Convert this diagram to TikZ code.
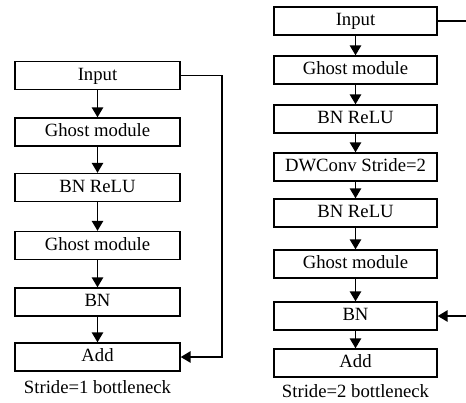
\documentclass[tikz,border=0pt]{standalone}
\usepackage{fontspec}
\setmainfont{Liberation Serif}
\usetikzlibrary{arrows.meta}
\begin{document}
\begin{tikzpicture}[x=1pt,y=-1pt,
  blk/.style={draw=black,line width=1.4pt,minimum height=28pt,inner sep=0pt,
    font=\fontsize{18.7}{22}\selectfont,text height=13pt,text depth=4pt},
  lblk/.style={blk,minimum width=165pt},
  rblk/.style={blk,minimum width=163pt},
  flow/.style={line width=1.5pt,-{Triangle[width=11.5pt,length=10pt]}},
  caption/.style={font=\fontsize{18.7}{22}\selectfont,inner sep=0pt}]
\useasboundingbox (0,0) rectangle (466,402);

% stride 1 bottleneck
\node[lblk] (l1) at (97.5,75.5) {Input};
\node[lblk] (l2) at (97.5,132) {Ghost module};
\node[lblk] (l3) at (97.5,187.5) {BN ReLU};
\node[lblk] (l4) at (97.5,245.5) {Ghost module};
\node[lblk] (l5) at (97.5,302) {BN};
\node[lblk] (l6) at (97.5,357) {Add};
\node[caption] (lc) at (97.5,387.5) {Stride=1 bottleneck};
\foreach \a/\b in {l1/l2,l2/l3,l3/l4,l4/l5,l5/l6}
  \draw[flow] (\a) -- (\b);
\coordinate (lr) at (222,0);
\draw[flow] (l1.east) -- (l1.east -| lr) -- (l6.east -| lr) -- (l6.east);

% stride 2 bottleneck
\node[rblk] (r1) at (355.5,21) {Input};
\node[rblk] (r2) at (355.5,70) {Ghost module};
\node[rblk] (r3) at (355.5,119) {BN ReLU};
\node[rblk] (r4) at (355.5,167) {DWConv Stride=2};
\node[rblk] (r5) at (355.5,213) {BN ReLU};
\node[rblk] (r6) at (355.5,264) {Ghost module};
\node[rblk] (r7) at (355.5,316) {BN};
\node[rblk] (r8) at (355.5,363) {Add};
\node[caption] (rc) at (355.5,391.5) {Stride=2 bottleneck};
\foreach \a/\b in {r1/r2,r2/r3,r3/r4,r4/r5,r5/r6,r6/r7,r7/r8}
  \draw[flow] (\a) -- (\b);
\coordinate (rr) at (470,0);
\draw[line width=1.4pt] (r1.east) -- (r1.east -| rr);
\draw[flow] (r7.east -| rr) -- (r7.east);
\end{tikzpicture}
\end{document}
